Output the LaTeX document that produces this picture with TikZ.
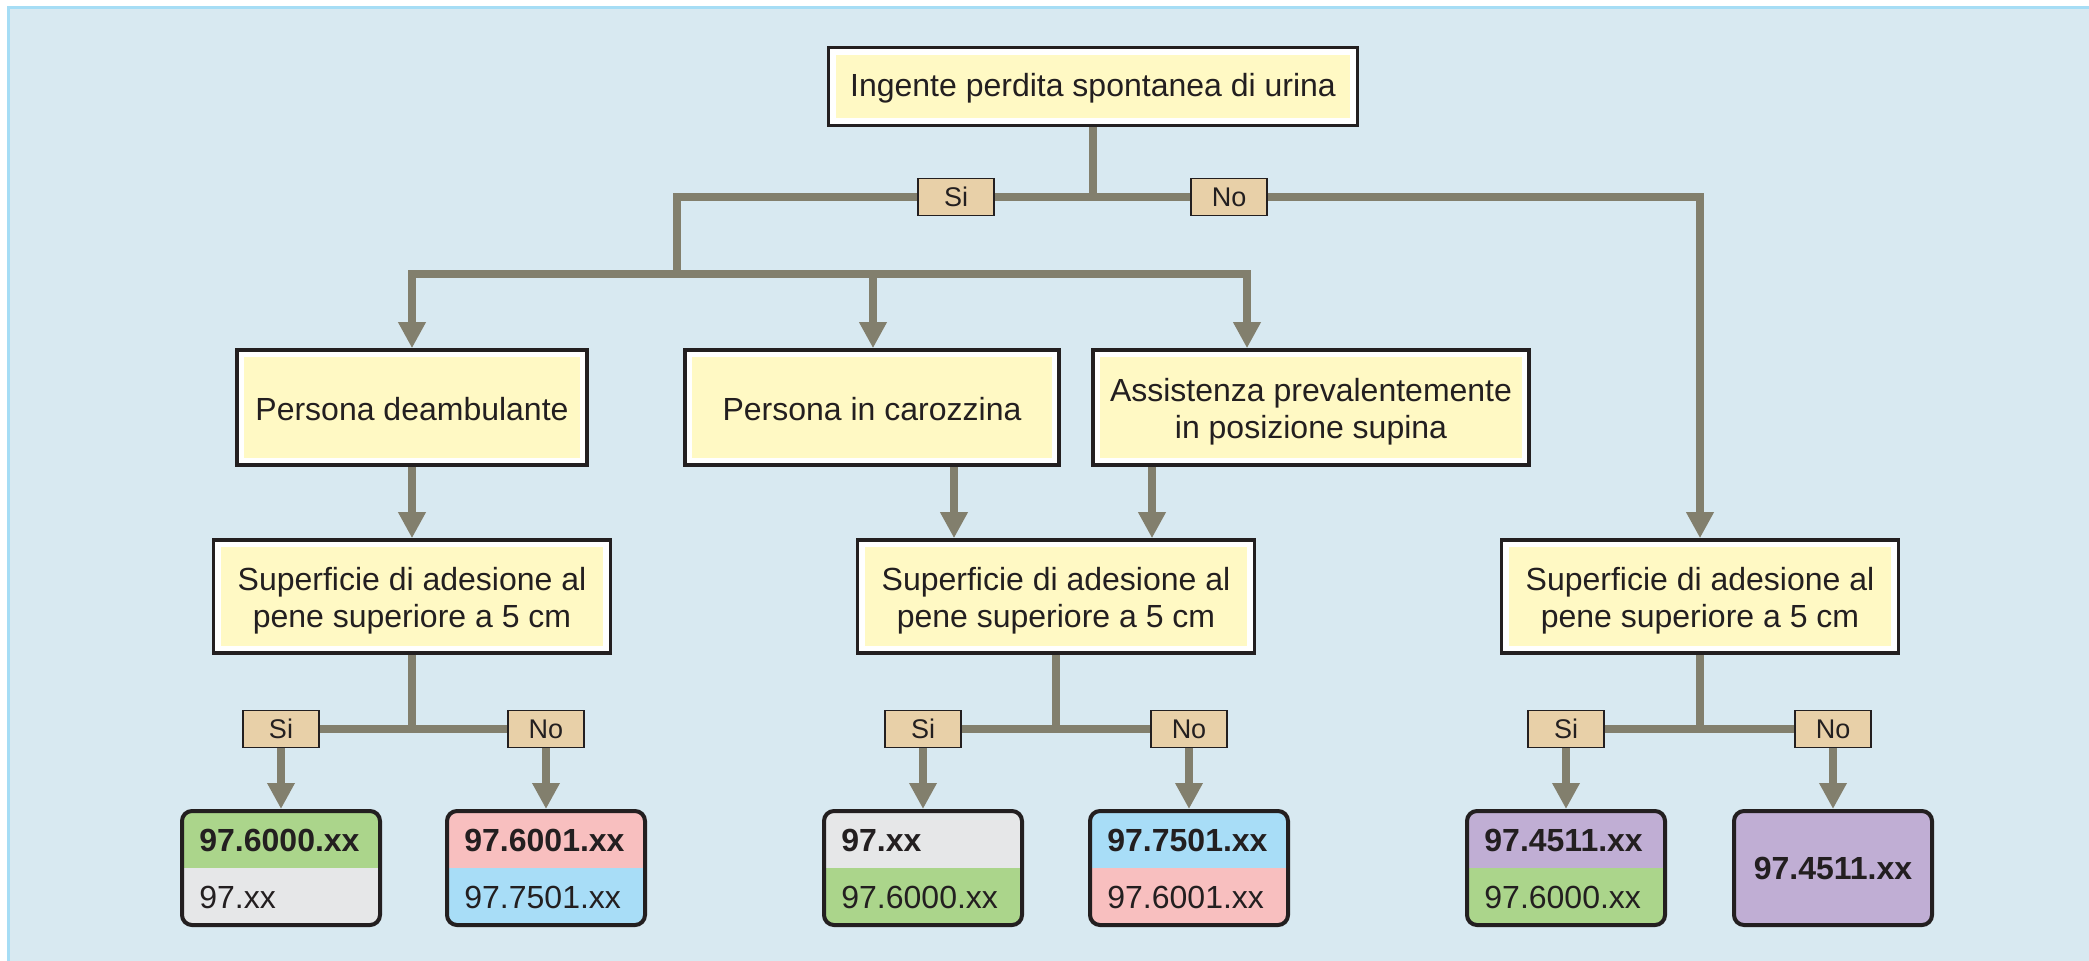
\documentclass[tikz,border=0pt]{standalone}
\usepackage{fontspec}
\setmainfont{Liberation Sans}
\usetikzlibrary{arrows.meta,calc}
\definecolor{bg}{HTML}{D8E9F1}
\definecolor{bgborder}{HTML}{A6DDF5}
\definecolor{ln}{HTML}{827F6D}
\definecolor{dk}{HTML}{231F20}
\definecolor{yel}{HTML}{FFF9C4}
\definecolor{lbltan}{HTML}{E8D0A8}
\definecolor{cgreen}{HTML}{ABD58B}
\definecolor{cgray}{HTML}{E6E7E8}
\definecolor{cpink}{HTML}{F8BFBF}
\definecolor{cblue}{HTML}{A8DDF7}
\definecolor{cpurple}{HTML}{C0AED4}
\begin{document}
\begin{tikzpicture}[x=0.5pt,y=-0.5pt,
  ybox/.style={draw=dk, line width=1.8pt, fill=white, inner sep=0pt,
    path picture={\fill[yel] ([xshift=3.6pt,yshift=-3.6pt]path picture bounding box.north west) rectangle ([xshift=-3.6pt,yshift=3.6pt]path picture bounding box.south east);}},
  ytxt/.style={inner sep=0pt, text=dk, font=\fontsize{16}{18.6}\selectfont, align=center},
  lbl/.style={draw=dk, line width=0.8pt, fill=lbltan, minimum width=38pt, minimum height=18.5pt,
    inner sep=0pt, text=dk, font=\fontsize{13.5}{16}\selectfont},
  rbox/.style 2 args={draw=dk, line width=2pt, rounded corners=5pt, fill=#2,
    minimum width=99pt, minimum height=57pt, inner sep=0pt,
    path picture={\fill[#1, sharp corners] (path picture bounding box.north west) rectangle (path picture bounding box.east);}},
  rtxt/.style={anchor=west, inner sep=0pt, text=dk, font=\fontsize{16}{19.3}\selectfont},
  conn/.style={draw=ln, line width=4.2pt, line join=miter},
  arr/.style={conn, -{Triangle[width=13pt,length=13pt]}}
]
\useasboundingbox (0,0) rectangle (2089,960);
% background panel
\fill[bg] (8,7) rectangle (2100,970);
\draw[bgborder, line width=1.5pt] (2100,7) -- (8,7) -- (8,970);

% boxes
\node[ybox, minimum width=264.5pt, minimum height=39pt] (top) at (1093,86.5) {};
\node[ybox, minimum width=175pt, minimum height=57.5pt] (p1) at (412,407.5) {};
\node[ybox, minimum width=187pt, minimum height=57.5pt] (p2) at (872,407.5) {};
\node[ybox, minimum width=218pt, minimum height=57.5pt] (p3) at (1311,407.5) {};
\node[ybox, minimum width=198.5pt, minimum height=56.5pt] (s1) at (412,596.5) {};
\node[ybox, minimum width=198.5pt, minimum height=56.5pt] (s2) at (1056,596.5) {};
\node[ybox, minimum width=198.5pt, minimum height=56.5pt] (s3) at (1700,596.5) {};

% box texts
\node[ytxt] (topt) at ($(top.center)+(0,1.5)$) {Ingente perdita spontanea di urina};
\node[ytxt] (p1t) at ($(p1.center)+(0,1.5)$) {Persona deambulante};
\node[ytxt] (p2t) at ($(p2.center)+(0,1.5)$) {Persona in carozzina};
\node[ytxt] (p3t) at ($(p3.center)+(0,4)$) {Assistenza prevalentemente\\in posizione supina};
\node[ytxt] (s1t) at ($(s1.center)+(0,4)$) {Superficie di adesione al\\pene superiore a 5 cm};
\node[ytxt] (s2t) at ($(s2.center)+(0,4)$) {Superficie di adesione al\\pene superiore a 5 cm};
\node[ytxt] (s3t) at ($(s3.center)+(0,4)$) {Superficie di adesione al\\pene superiore a 5 cm};

% labels
\node[lbl] (siT) at (956,197) {Si};
\node[lbl] (noT) at (1229,197) {No};
\node[lbl] (si1) at (281,729) {Si};
\node[lbl] (no1) at (546,729) {No};
\node[lbl] (si2) at (923,729) {Si};
\node[lbl] (no2) at (1189,729) {No};
\node[lbl] (si3) at (1566,729) {Si};
\node[lbl] (no3) at (1833,729) {No};

% result boxes
\node[rbox={cgreen}{cgray}] (r1) at (281,868) {};
\node[rbox={cpink}{cblue}] (r2) at (546,868) {};
\node[rbox={cgray}{cgreen}] (r3) at (923,868) {};
\node[rbox={cblue}{cpink}] (r4) at (1189,868) {};
\node[rbox={cpurple}{cgreen}] (r5) at (1566,868) {};
\node[rbox={cpurple}{cpurple}] (r6) at (1833,868) {};

\node[rtxt] (t1a) at ($(r1.west)+(19,-28)$) {\textbf{97.6000.xx}};
\node[rtxt] (t1b) at ($(r1.west)+(19,29)$) {97.xx};
\node[rtxt] (t2a) at ($(r2.west)+(19,-28)$) {\textbf{97.6001.xx}};
\node[rtxt] (t2b) at ($(r2.west)+(19,29)$) {97.7501.xx};
\node[rtxt] (t3a) at ($(r3.west)+(19,-28)$) {\textbf{97.xx}};
\node[rtxt] (t3b) at ($(r3.west)+(19,29)$) {97.6000.xx};
\node[rtxt] (t4a) at ($(r4.west)+(19,-28)$) {\textbf{97.7501.xx}};
\node[rtxt] (t4b) at ($(r4.west)+(19,29)$) {97.6001.xx};
\node[rtxt] (t5a) at ($(r5.west)+(19,-28)$) {\textbf{97.4511.xx}};
\node[rtxt] (t5b) at ($(r5.west)+(19,29)$) {97.6000.xx};
\node[inner sep=0pt, text=dk, font=\fontsize{16}{19.3}\selectfont] (t6) at (r6.center) {\textbf{97.4511.xx}};

% junction coordinates
\coordinate (jL2) at (677,274);
\coordinate (xM) at (873,0);
\coordinate (xR) at (1247,0);
\coordinate (xC) at (954,0);
\coordinate (xA) at (1152,0);

% connectors, top level
\draw[conn] (top.south) |- (siT.east);
\draw[conn] (top.south) |- (noT.west);
\draw[arr] (siT.west) -| (jL2) -| (p1.north);
\draw[arr] (jL2) -| (p2.north -| xM);
\draw[arr] (jL2) -| (p3.north -| xR);
\draw[arr] (noT.east) -| (s3.north);

% level 2 to 3
\draw[arr] (p1.south) -- (s1.north);
\draw[arr] (p2.south -| xC) -- (s2.north -| xC);
\draw[arr] (p3.south -| xA) -- (s2.north -| xA);

% level 3 branches
\foreach \s/\a/\b/\ra/\rb in {s1/si1/no1/r1/r2, s2/si2/no2/r3/r4, s3/si3/no3/r5/r6}{
  \draw[conn] (\s.south) |- (\a.east);
  \draw[conn] (\s.south) |- (\b.west);
  \draw[arr] (\a.south) -- (\ra.north);
  \draw[arr] (\b.south) -- (\rb.north);
}
\end{tikzpicture}
\end{document}
